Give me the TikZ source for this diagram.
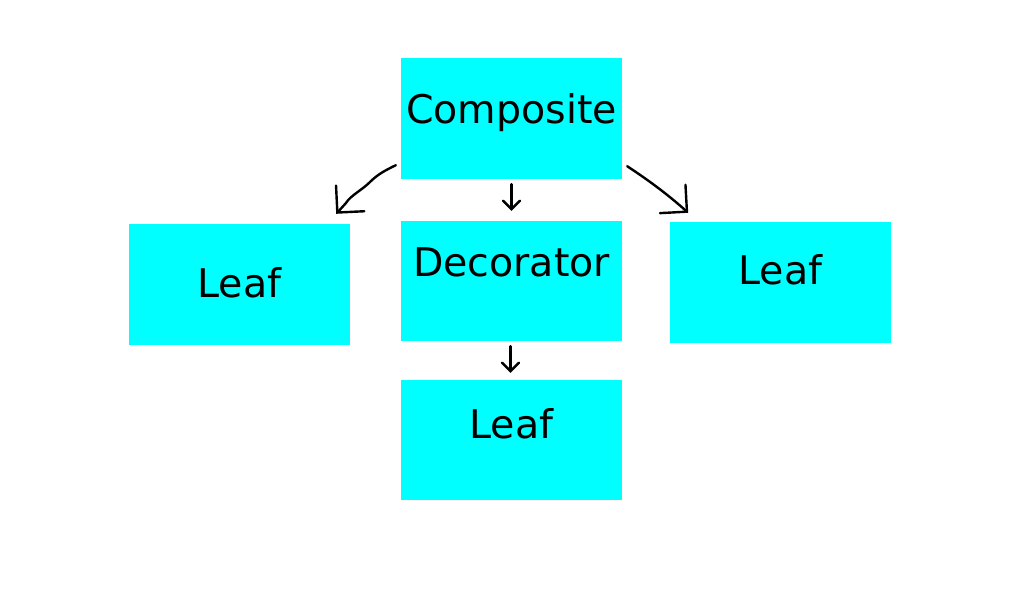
\documentclass[tikz,border=0pt]{standalone}
\usepackage{fontspec}
\setmainfont{DejaVu Sans}
\usetikzlibrary{arrows.meta}
\begin{document}
\begin{tikzpicture}[x=1pt,y=-1pt,
  box/.style={fill={rgb,255:red,0;green,255;blue,255}, draw=none, inner sep=0pt,
    minimum width=221pt, font=\fontsize{39.5}{41}\selectfont},
  conn/.style={draw=black, line width=2.4pt, line cap=round, line join=round},
  bighead/.style={-{Straight Barb[angle=90:27pt 0, line cap=round]}},
  smallhead/.style={-{Straight Barb[angle=90:12pt 0, line cap=round]}}]
\useasboundingbox[fill=white] (0,0) rectangle (1024,599);
\node[box, text height=65pt, text depth=56pt] (comp) at (511.5,118.5) {Composite};
\node[box, text height=73pt, text depth=48pt] (leafL) at (239.5,284.5) {Leaf};
\node[box, text height=55pt, text depth=65pt] (deco) at (511.5,281) {Decorator};
\node[box, text height=62pt, text depth=59pt] (leafR) at (780.5,282.5) {Leaf};
\node[box, text height=58pt, text depth=62pt] (leafB) at (511.5,440) {Leaf};
\draw[conn, bighead] ([shift={(-5,-14)}]comp.south west) .. controls (386,170) and (378,174) .. (370,182) .. controls (362,190) and (350,196) .. (346,203) -- ([shift={(-14,-10)}]leafL.north east);
\draw[conn, bighead] ([shift={(5,-13)}]comp.south east) .. controls (645,178) and (665,192) .. ([shift={(-203,-9)}]leafR.north east);
\draw[conn, smallhead] ([shift={(0,5)}]comp.south) -- ([shift={(0,-10)}]deco.north);
\draw[conn, smallhead] ([shift={(-1,5)}]deco.south) -- ([shift={(-1,-7)}]leafB.north);
\end{tikzpicture}
\end{document}
